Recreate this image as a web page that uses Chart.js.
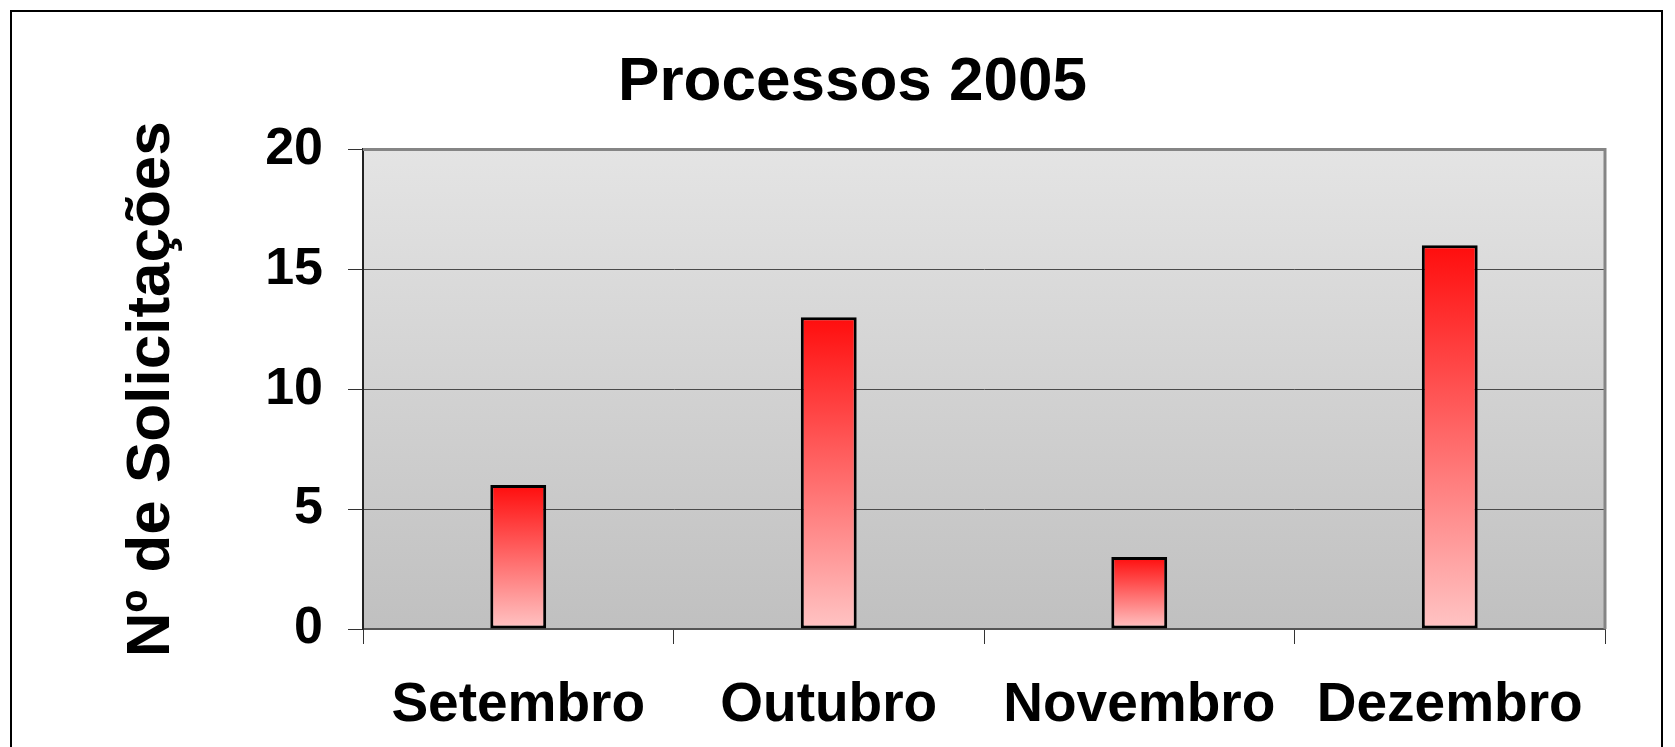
<!DOCTYPE html>
<html lang="pt">
<head>
<meta charset="utf-8">
<title>Processos 2005</title>
<script src="https://cdn.jsdelivr.net/npm/chart.js@4/dist/chart.umd.min.js"></script>
<style>
    html, body { margin: 0; padding: 0; background: #fff; }
    canvas { display: block; }
</style>
</head>
<body>
<canvas id="processosChart" width="1675" height="747"></canvas>
<script>
// Dados do gráfico
const meses = ['Setembro', 'Outubro', 'Novembro', 'Dezembro'];
const solicitacoes = [6, 13, 3, 16];
const tituloGrafico = 'Processos 2005';
const tituloEixoY = 'Nº de Solicitações';
const eixoYMin = 0;
const eixoYMax = 20;
const eixoYPasso = 5;

const fonte = '"Liberation Sans", Arial, sans-serif';

// Fundo cinza em degradê e moldura externa
const fundoPlugin = {
    id: 'fundo',
    beforeDraw(chart) {
        const { ctx, chartArea } = chart;
        ctx.save();
        ctx.fillStyle = '#fff';
        ctx.fillRect(0, 0, chart.width, chart.height);
        ctx.strokeStyle = '#000';
        ctx.lineWidth = 2;
        ctx.strokeRect(11, 11, 1651, 800);
        const g = ctx.createLinearGradient(0, chartArea.top, 0, chartArea.bottom);
        g.addColorStop(0, '#e4e4e4');
        g.addColorStop(1, '#c0c0c0');
        ctx.fillStyle = g;
        ctx.fillRect(chartArea.left, chartArea.top, chartArea.right - chartArea.left, chartArea.bottom - chartArea.top);
        ctx.restore();
    },
    beforeDatasetsDraw(chart) {
        // borda superior e direita da área de plotagem
        const { ctx, chartArea } = chart;
        ctx.save();
        ctx.strokeStyle = '#858585';
        ctx.lineWidth = 3;
        ctx.beginPath();
        ctx.moveTo(chartArea.left, chartArea.top);
        ctx.lineTo(chartArea.right, chartArea.top);
        ctx.lineTo(chartArea.right, chartArea.bottom);
        ctx.stroke();
        ctx.restore();
    }
};

// Degradê vermelho de cada barra (do topo até o zero)
function corBarra(context) {
    const { ctx, chartArea, scales } = context.chart;
    if (!chartArea || context.raw === undefined) return '#ff4040';
    const topo = scales.y.getPixelForValue(context.raw);
    const base = scales.y.getPixelForValue(0);
    const g = ctx.createLinearGradient(0, topo, 0, base);
    g.addColorStop(0, '#ff0d0d');
    g.addColorStop(1, '#ffc4c4');
    return g;
}

new Chart(document.getElementById('processosChart'), {
    type: 'bar',
    data: {
        labels: meses,
        datasets: [{
            label: tituloGrafico,
            data: solicitacoes,
            backgroundColor: corBarra,
            borderColor: '#000',
            borderWidth: 3,
            borderSkipped: false,
            categoryPercentage: 1,
            barPercentage: 0.18
        }]
    },
    options: {
        responsive: false,
        animation: false,
        devicePixelRatio: 1,
        layout: {
            padding: { top: 0, left: 100, right: 70, bottom: 0 }
        },
        plugins: {
            legend: { display: false },
            tooltip: { enabled: false },
            title: {
                display: true,
                text: tituloGrafico,
                color: '#000',
                font: { family: fonte, size: 62, weight: 'bold' },
                padding: { top: 46, bottom: 29 }
            }
        },
        scales: {
            x: {
                grid: {
                    display: true,
                    drawOnChartArea: false,
                    offset: true,
                    tickLength: 15,
                    tickColor: '#333'
                },
                border: { color: '#555', width: 2 },
                ticks: {
                    color: '#000',
                    padding: 29,
                    maxRotation: 0,
                    font: { family: fonte, size: 55, weight: 'bold' }
                },
                afterFit: function(scale) {
                    scale.height = 118;
                }
            },
            y: {
                min: eixoYMin,
                max: eixoYMax,
                ticks: {
                    stepSize: eixoYPasso,
                    color: '#000',
                    padding: 25,
                    font: { family: fonte, size: 52, weight: 'bold' }
                },
                grid: {
                    color: '#4a4a4a',
                    lineWidth: 1,
                    tickLength: 15,
                    tickColor: '#333'
                },
                border: { color: '#222', width: 2 },
                title: {
                    display: true,
                    text: tituloEixoY,
                    color: '#000',
                    padding: { top: 15, bottom: 0 },
                    font: { family: fonte, size: 62, weight: 'bold' }
                },
                afterFit: function(scale) {
                    scale.width = 263;
                }
            }
        }
    },
    plugins: [fundoPlugin]
});
</script>
</body>
</html>
